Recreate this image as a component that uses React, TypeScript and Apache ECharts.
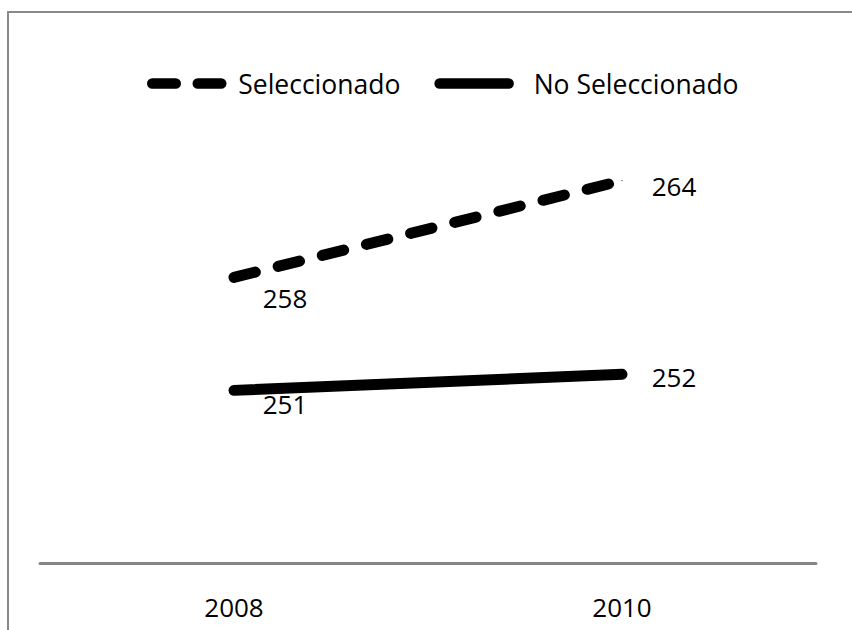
import React, { useEffect, useRef } from "react";
import * as echarts from "echarts";

const categories = ["2008", "2010"];
const seleccionado = [258, 264];
const noSeleccionado = [251, 252];
const seriesNames = ["Seleccionado", "No Seleccionado"];

const FONT = "'Open Sans', 'Noto Sans', sans-serif";

export default function App() {
  const ref = useRef<HTMLDivElement>(null);
  useEffect(() => {
    if (!ref.current) return;
    const chart = echarts.init(ref.current, null, { renderer: "svg" });
    const selOffsets = [[51, 21], [52, 5]];
    const noOffsets = [[51, 14], [52, 3]];
    const mkData = (vals: number[], offs: number[][]) =>
      vals.map((v, i) => ({
        value: v,
        label: { offset: offs[i] },
      }));
    chart.setOption({
      animation: false,
      textStyle: { fontFamily: FONT },
      graphic: [
        {
          type: "rect",
          silent: true,
          shape: { x: 8, y: 12, width: 900, height: 700 },
          style: { fill: "none", stroke: "#898989", lineWidth: 2 },
        },
      ],
      legend: {
        top: 70,
        left: 147,
        padding: 0,
        itemWidth: 69,
        itemHeight: 14,
        itemGap: 34,
        textStyle: {
          fontSize: 26.5,
          color: "#000",
          fontFamily: FONT,
          padding: [0, 0, 0, 12],
        },
        itemStyle: { opacity: 0 },
        lineStyle: { width: 10, cap: "round", color: "#000" },
        data: [
          {
            name: seriesNames[0],
            lineStyle: { type: [23.5, 22], width: 10.5, cap: "round", color: "#000" },
          },
          {
            name: seriesNames[1],
            lineStyle: { type: "solid", width: 10.5, cap: "round", color: "#000" },
            textStyle: { padding: [0, 0, 0, 20] },
          },
        ],
      },
      grid: { left: 40, right: 36, top: 79, bottom: 67 },
      xAxis: {
        type: "category",
        data: categories,
        boundaryGap: true,
        axisLine: { show: true, lineStyle: { color: "#868686", width: 3 } },
        axisTick: { show: false },
        axisLabel: { fontSize: 26, color: "#000", margin: 31, fontFamily: FONT },
        splitLine: { show: false },
      },
      yAxis: {
        type: "value",
        min: 240.3,
        max: 270.3,
        show: false,
        splitLine: { show: false },
      },
      series: [
        {
          name: seriesNames[0],
          type: "line",
          data: mkData(seleccionado, selOffsets),
          symbol: "circle",
          symbolSize: 1,
          itemStyle: { color: "#000" },
          lineStyle: { color: "#000", width: 11, type: [22, 23.5], cap: "round" },
          label: {
            show: true,
            position: "inside",
            fontSize: 26,
            color: "#000",
            fontFamily: FONT,
          },
        },
        {
          name: seriesNames[1],
          type: "line",
          data: mkData(noSeleccionado, noOffsets),
          symbol: "circle",
          symbolSize: 1,
          itemStyle: { color: "#000" },
          lineStyle: { color: "#000", width: 11, type: "solid", cap: "round" },
          label: {
            show: true,
            position: "inside",
            fontSize: 26,
            color: "#000",
            fontFamily: FONT,
          },
        },
      ],
    });
    return () => chart.dispose();
  }, []);
  return (
    <div
      ref={ref}
      style={{ position: "absolute", left: 0, top: 0, width: 852, height: 630 }}
    />
  );
}
